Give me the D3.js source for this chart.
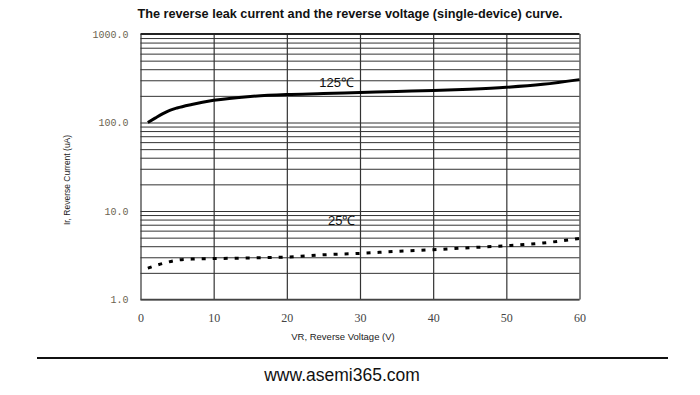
<!DOCTYPE html>
<html>
<head>
<meta charset="utf-8">
<script src="https://cdn.jsdelivr.net/npm/d3@7"></script>
<style>
  body { margin: 0; background: #fff; }
  svg { display: block; }
</style>
</head>
<body>
<svg id="chart" width="700" height="395"></svg>
<script>
// values
var voltage125 = [1, 2, 3, 4, 5, 7, 10, 15, 20, 25, 30, 35, 40, 45, 50, 55, 60];
var current125 = [100, 112, 125, 137, 146, 160, 178, 197, 207, 212, 218, 224, 230, 238, 250, 270, 305];

var voltage25 = [1, 3, 5, 7, 10, 15, 20, 25, 30, 35, 40, 45, 50, 55, 60];
var current25 = [2.26, 2.55, 2.78, 2.86, 2.9, 2.95, 3.02, 3.2, 3.32, 3.5, 3.65, 3.85, 4.05, 4.35, 4.9];

var xTicks = [0, 10, 20, 30, 40, 50, 60];
var yMajor = [1, 10, 100, 1000];
var yLabels = ["1.0", "10.0", "100.0", "1000.0"];

var svg = d3.select("#chart");

// plot box (window.top is reserved, so prefixed names)
var plotLeft = 140.5, plotRight = 579.5, plotTop = 34, plotBottom = 299.5;

var x = d3.scaleLinear().domain([0, 60]).range([plotLeft, plotRight]);
var y = d3.scaleLog().domain([1, 1000]).range([plotBottom, plotTop]);

// minor grid values for log axis
var yGrid = [];
for (var d = 1; d < 1000; d *= 10)
{
	for (var k = 1; k <= 9; k++) yGrid.push(d * k);
}

// horizontal grid
var hGrid = svg.append("g")
	.attr("transform", "translate(" + plotLeft + ",0)")
	.call(d3.axisLeft(y).tickValues(yGrid).tickSize(-(plotRight - plotLeft)).tickFormat(""));
hGrid.select(".domain").remove();
hGrid.selectAll("line").attr("stroke", "#333").attr("stroke-width", 1);

// vertical grid
var vGrid = svg.append("g")
	.attr("transform", "translate(0," + plotBottom + ")")
	.call(d3.axisBottom(x).tickValues(xTicks).tickSize(-(plotBottom - plotTop)).tickFormat(""));
vGrid.select(".domain").remove();
vGrid.selectAll("line").attr("stroke", "#333").attr("stroke-width", 1.2);

// frame top / bottom heavier
svg.append("line").attr("x1", plotLeft).attr("x2", plotRight).attr("y1", y(1000)).attr("y2", y(1000))
	.attr("stroke", "#222").attr("stroke-width", 2);
svg.append("line").attr("x1", plotLeft).attr("x2", plotRight).attr("y1", y(1)).attr("y2", y(1))
	.attr("stroke", "#444").attr("stroke-width", 1.5);

// y labels
var yAxis = svg.append("g")
	.attr("transform", "translate(" + (plotLeft - 12) + ",0)")
	.call(d3.axisLeft(y).tickValues(yMajor).tickSize(0)
		.tickFormat(function (d, i) { return yLabels[i]; }));
yAxis.select(".domain").remove();
yAxis.selectAll("text")
	.attr("x", 0)
	.attr("font-family", "'Liberation Mono', 'DejaVu Sans Mono', monospace")
	.attr("font-size", 10)
	.attr("fill", "#6b6450");

// x labels
var xAxis = svg.append("g")
	.attr("transform", "translate(0," + (plotBottom + 11) + ")")
	.call(d3.axisBottom(x).tickValues(xTicks).tickSize(0));
xAxis.select(".domain").remove();
xAxis.selectAll("text")
	.attr("font-family", "'Liberation Serif', serif")
	.attr("font-size", 12)
	.attr("fill", "#444");

// curves
var line = d3.line()
	.x(function (d) { return x(d[0]); })
	.y(function (d) { return y(d[1]); })
	.curve(d3.curveMonotoneX);

svg.append("path")
	.datum(d3.zip(voltage125, current125))
	.attr("d", line)
	.attr("fill", "none")
	.attr("stroke", "#000")
	.attr("stroke-width", 3);

svg.append("path")
	.datum(d3.zip(voltage25, current25))
	.attr("d", line)
	.attr("fill", "none")
	.attr("stroke", "#000")
	.attr("stroke-width", 3)
	.attr("stroke-dasharray", "4,7");

// curve labels
svg.append("text").attr("x", x(26.8)).attr("y", y(255))
	.attr("text-anchor", "middle")
	.attr("font-family", "'Liberation Sans', Arial, sans-serif")
	.attr("font-size", 13).attr("fill", "#111")
	.text("125℃");
svg.append("text").attr("x", x(27.5)).attr("y", y(10) + 14)
	.attr("text-anchor", "middle")
	.attr("font-family", "'Liberation Sans', Arial, sans-serif")
	.attr("font-size", 13).attr("fill", "#111")
	.text("25℃");

// titles
svg.append("text").attr("x", 350).attr("y", 18)
	.attr("text-anchor", "middle")
	.attr("font-family", "'Liberation Sans', Arial, sans-serif")
	.attr("font-weight", "bold")
	.attr("font-size", 12.7).attr("fill", "#111")
	.text("The reverse leak current and the reverse voltage (single-device) curve.");

svg.append("text")
	.attr("transform", "translate(70,180) rotate(-90)")
	.attr("text-anchor", "middle")
	.attr("font-family", "'Liberation Sans', Arial, sans-serif")
	.attr("font-size", 8.5).attr("fill", "#222")
	.text("Ir, Reverse Current (uA)");

svg.append("text").attr("x", 343).attr("y", 340)
	.attr("text-anchor", "middle")
	.attr("font-family", "'Liberation Sans', Arial, sans-serif")
	.attr("font-size", 9.5).attr("fill", "#222")
	.text("VR, Reverse Voltage (V)");

// footer rule and site
svg.append("line").attr("x1", 37).attr("x2", 668).attr("y1", 358).attr("y2", 358)
	.attr("stroke", "#111").attr("stroke-width", 2);
svg.append("text").attr("x", 342).attr("y", 381)
	.attr("text-anchor", "middle")
	.attr("font-family", "'Liberation Sans', Arial, sans-serif")
	.attr("font-size", 17.5).attr("fill", "#111")
	.text("www.asemi365.com");
</script>
</body>
</html>
